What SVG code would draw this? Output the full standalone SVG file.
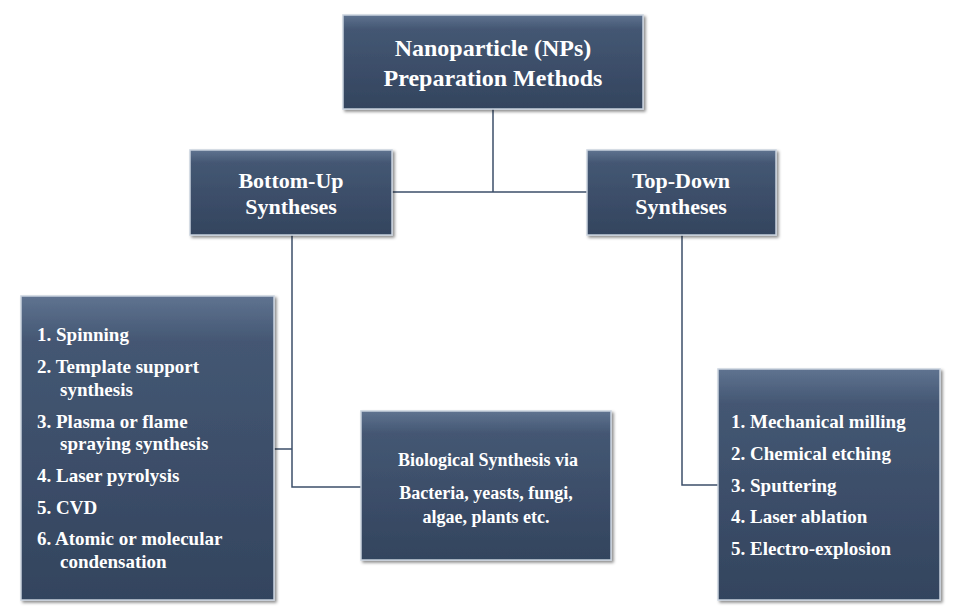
<svg xmlns="http://www.w3.org/2000/svg" width="958" height="613" viewBox="0 0 958 613">
<defs>
<linearGradient id="g" x1="0" y1="0" x2="0" y2="1">
<stop offset="0" stop-color="#5f7390"/><stop offset="0.15" stop-color="#445773"/><stop offset="1" stop-color="#33445e"/>
</linearGradient>
<filter id="sh" x="-5%" y="-5%" width="115%" height="115%"><feDropShadow dx="2" dy="2" stdDeviation="1.5" flood-color="#000" flood-opacity="0.45"/></filter>
</defs>
<style>
.b{fill:url(#g);stroke:#c9d2de;stroke-width:1.5;filter:url(#sh)}
.t{font-family:"Liberation Serif",serif;font-weight:bold;fill:#fff}
.c{fill:none;stroke:#3d4f6a;stroke-width:1.5}
</style>
<rect width="958" height="613" fill="#fff"/>
<g id="connectors">
<path class="c" d="M493 109V192M392 192H587"/>
<path class="c" d="M292 235V487H361M274 449H292"/>
<path class="c" d="M682 235V485H718"/>
</g>
<g id="root"><rect class="b" x="343" y="15" width="300" height="94"/>
<text class="t" font-size="24" text-anchor="middle"><tspan x="493" y="56">Nanoparticle (NPs)</tspan><tspan x="493" y="86">Preparation Methods</tspan></text></g>
<g id="bottomup"><rect class="b" x="190" y="150" width="202" height="85"/>
<text class="t" font-size="22" text-anchor="middle"><tspan x="291" y="188">Bottom-Up</tspan><tspan x="291" y="214">Syntheses</tspan></text></g>
<g id="topdown"><rect class="b" x="587" y="150" width="189" height="85"/>
<text class="t" font-size="22" text-anchor="middle"><tspan x="681" y="188">Top-Down</tspan><tspan x="681" y="214">Syntheses</tspan></text></g>
<g id="leftlist"><rect class="b" x="21" y="296" width="253" height="304"/>
<text class="t" font-size="19"><tspan x="37" y="341">1.  Spinning</tspan><tspan x="37" y="373">2.  Template support</tspan><tspan x="60" y="396">synthesis</tspan><tspan x="37" y="428">3.  Plasma or flame</tspan><tspan x="60" y="450">spraying synthesis</tspan><tspan x="37" y="482">4.  Laser pyrolysis</tspan><tspan x="37" y="514">5.  CVD</tspan><tspan x="37" y="545">6.  Atomic or molecular</tspan><tspan x="60" y="568">condensation</tspan></text></g>
<g id="bio"><rect class="b" x="361" y="411" width="250" height="149"/>
<text class="t" font-size="18" text-anchor="middle"><tspan x="488" y="466">Biological Synthesis via</tspan><tspan x="486" y="499">Bacteria, yeasts, fungi,</tspan><tspan x="486" y="523">algae, plants etc.</tspan></text></g>
<g id="rightlist"><rect class="b" x="718" y="369" width="222" height="231"/>
<text class="t" font-size="19"><tspan x="731" y="428">1. Mechanical milling</tspan><tspan x="731" y="460">2. Chemical etching</tspan><tspan x="731" y="492">3. Sputtering</tspan><tspan x="731" y="523">4. Laser ablation</tspan><tspan x="731" y="555">5. Electro-explosion</tspan></text></g>
</svg>
